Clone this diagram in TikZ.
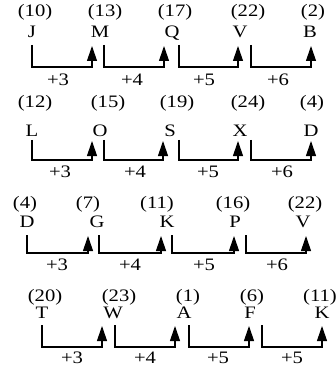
\documentclass[tikz,border=0pt]{standalone}
\usepackage{fontspec}
\setmainfont{Liberation Serif}
\usetikzlibrary{arrows.meta}
\newcommand\wtxt[1]{\scalebox{1.18}[1]{#1}}
\begin{document}
\begin{tikzpicture}[x=1pt,y=-1pt,
  txt/.style={font=\fontsize{17.5}{19}\selectfont, inner sep=0pt, anchor=base},
  conn/.style={line width=1.1pt, -{Triangle[length=15pt,width=10pt]}}]
\useasboundingbox (0,0) rectangle (336,366);
% ---------- row 1
\foreach \i/\x/\t in {1/35/(10),2/105/(13),3/175/(17),4/248/(22),5/313/(2)}
  \node[txt] (na\i) at (\x,17) {\wtxt{\t}};
\foreach \i/\x/\t in {1/32/J,2/100/M,3/172/Q,4/240/V,5/310/B}
  \node[txt] (la\i) at (\x,38) {\wtxt{\t}};
\foreach \i/\a/\b/\x/\t in {1/32/92/58/+3,2/104/164/132/+4,3/179/238/204/+5,4/251/311/278/+6}{
  \coordinate (sa\i) at (\a,45); \coordinate (ea\i) at (\b,46); \coordinate (ba\i) at (\a,67);
  \draw[conn] (sa\i) -- (ba\i) -- (ba\i -| ea\i) -- (ea\i);
  \node[txt] (pa\i) at (\x,86) {\wtxt{\t}};
}
% ---------- row 2
\foreach \i/\x/\t in {1/35/(12),2/108/(15),3/177/(19),4/248/(24),5/312/(4)}
  \node[txt] (nb\i) at (\x,108) {\wtxt{\t}};
\foreach \i/\x/\t in {1/32/L,2/100/O,3/170/S,4/240/X,5/311/D}
  \node[txt] (lb\i) at (\x,137) {\wtxt{\t}};
\foreach \i/\a/\b/\x/\t in {1/32/92/60/+3,2/104/163/135/+4,3/179/238/208/+5,4/251/311/282/+6}{
  \coordinate (sb\i) at (\a,140); \coordinate (eb\i) at (\b,141); \coordinate (bb\i) at (\a,160);
  \draw[conn] (sb\i) -- (bb\i) -- (bb\i -| eb\i) -- (eb\i);
  \node[txt] (pb\i) at (\x,177) {\wtxt{\t}};
}
% ---------- row 3
\foreach \i/\x/\t in {1/25/(4),2/88/(7),3/157/(11),4/233/(16),5/305/(22)}
  \node[txt] (nc\i) at (\x,208) {\wtxt{\t}};
\foreach \i/\x/\t in {1/27/D,2/97/G,3/167/K,4/235/P,5/303/V}
  \node[txt] (lc\i) at (\x,227) {\wtxt{\t}};
\foreach \i/\a/\b/\x/\t in {1/27/88/57/+3,2/99/161/130/+4,3/172/234/204/+5,4/246/306/277/+6}{
  \coordinate (sc\i) at (\a,235); \coordinate (ec\i) at (\b,236); \coordinate (bc\i) at (\a,253);
  \draw[conn] (sc\i) -- (bc\i) -- (bc\i -| ec\i) -- (ec\i);
  \node[txt] (pc\i) at (\x,270) {\wtxt{\t}};
}
% ---------- row 4
\foreach \i/\x/\t in {1/45/(20),2/119/(23),3/188/(1),4/252/(6),5/320/(11)}
  \node[txt] (nd\i) at (\x,301) {\wtxt{\t}};
\foreach \i/\x/\t in {1/42/T,2/113/W,3/184/A,4/250/F,5/322/K}
  \node[txt] (ld\i) at (\x,318) {\wtxt{\t}};
\foreach \i/\a/\b/\x/\t in {1/42/102/72/+3,2/115/175/145/+4,3/189/249/218/+5,4/262/322/292/+5}{
  \coordinate (sd\i) at (\a,325); \coordinate (ed\i) at (\b,326); \coordinate (bd\i) at (\a,347);
  \draw[conn] (sd\i) -- (bd\i) -- (bd\i -| ed\i) -- (ed\i);
  \node[txt] (pd\i) at (\x,363) {\wtxt{\t}};
}
\end{tikzpicture}
\end{document}
